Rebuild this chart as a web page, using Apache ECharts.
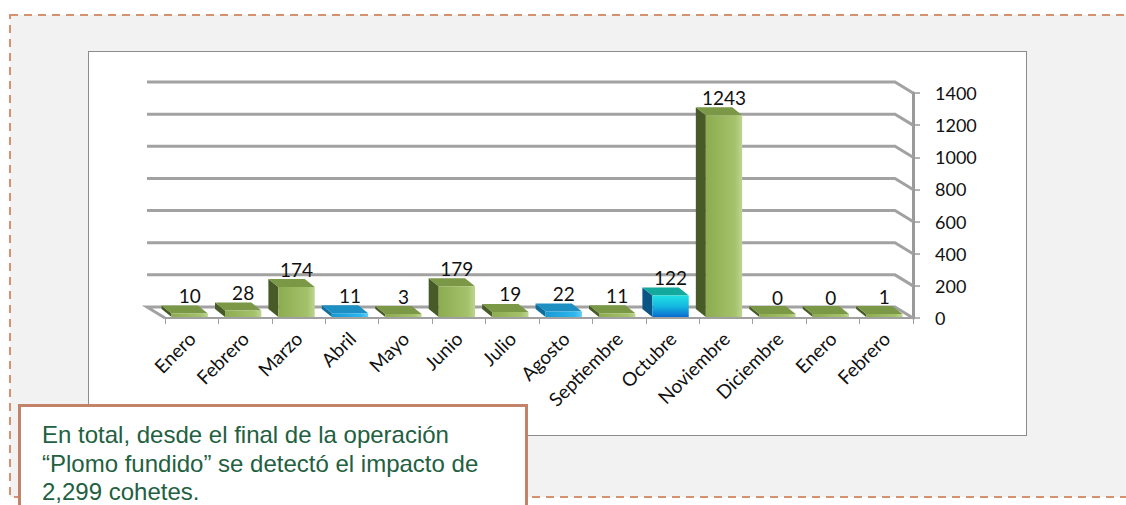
<!DOCTYPE html>
<html>
<head>
<meta charset="utf-8">
<title>Cohetes</title>
<script src="https://cdn.jsdelivr.net/npm/echarts@6/dist/echarts.min.js"></script>
<style>
  body { margin: 0; background: #fff; }
  #stage { position: relative; width: 1126px; height: 505px; overflow: hidden; }
  #frame { position: absolute; left: 0; top: 0; }
  #plotBox { position: absolute; left: 88px; top: 51px; width: 937px; height: 383px;
             background: #fff; border: 1px solid #8c8c8c; }
  #main { position: absolute; left: 0; top: 0; width: 1126px; height: 505px; }
  #note { position: absolute; left: 18px; top: 404px; width: 483px; height: 120px;
          background: #fff; border: 3px solid #c3836b; padding: 14px 0 0 21px;
          font-family: "Liberation Sans", Arial, sans-serif; font-size: 24px;
          line-height: 28.5px; color: #22603f; }
</style>
</head>
<body>
<div id="stage">
  <svg id="frame" width="1126" height="505">
    <rect x="10" y="15" width="1130" height="482" fill="#f2f2f2" stroke="#d8916f"
          stroke-width="2" stroke-dasharray="8 6"/>
  </svg>
  <div id="plotBox"></div>
  <div id="main"></div>
  <div id="note">En total, desde el final de la operación<br>“Plomo fundido” se detectó el impacto de<br>2,299 cohetes.</div>
</div>
<script>
const months = ['Enero', 'Febrero', 'Marzo', 'Abril', 'Mayo', 'Junio', 'Julio',
  'Agosto', 'Septiembre', 'Octubre', 'Noviembre', 'Diciembre', 'Enero', 'Febrero'];
const rockets = [10, 28, 174, 11, 3, 179, 19, 22, 11, 122, 1243, 0, 0, 1];
const yTicks = [0, 200, 400, 600, 800, 1000, 1200, 1400];

// bar colouring, by category index (everything else is green)
const toneByIndex = { 3: 'blue', 7: 'blue', 9: 'cyan' };
const tones = {
  green: { front: ['#8dac50', '#a4c26b', '#bdd690'], vertical: false, side: '#485a27', top: '#7a9846' },
  blue:  { front: ['#1a9ad3', '#2db6ee', '#62cdf4'], vertical: false, side: '#0f6d99', top: '#1d8fc2' },
  cyan:  { front: ['#22e2e4', '#14b8e0', '#0a6bd0'], vertical: true,  side: '#0b5585', top: '#13a99c' }
};

// oblique 3d offsets (back relative to front)
const BAR_DX = -10, BAR_DY = -8;
const WALL_DX = -18, WALL_DY = -11;
const labelFont = '19px Lato, "Open Sans", sans-serif';

let chart = echarts.init(document.getElementById('main'), null, { renderer: 'svg' });

function renderWall(params, api) {
  let cs = params.coordSys;
  let v = api.value(1);
  let y = api.coord([0, v])[1];
  let xl = cs.x, xr = cs.x + cs.width;
  let pts = [[xl + WALL_DX, y + WALL_DY], [xr + WALL_DX, y + WALL_DY], [xr, y]];
  if (v === 0) {
    pts.unshift([xl, y]);
  }
  return {
    type: 'polyline',
    shape: { points: pts },
    style: { stroke: '#a2a2a2', lineWidth: 3, fill: null }
  };
}

function renderBar(params, api) {
  let idx = api.value(0);
  let val = api.value(1);
  let base = api.coord([idx, 0]);
  let top = api.coord([idx, val]);
  let bw = api.size([1, 0])[0] * 0.68;
  let cx = base[0] - 2;
  let x0 = cx - bw / 2, x1 = cx + bw / 2;
  let yb = base[1] - 1;
  let yt = Math.min(top[1] - 3, yb - 3);
  let tone = tones[toneByIndex[idx] || 'green'];
  let grad = tone.vertical
    ? new echarts.graphic.LinearGradient(0, 0, 0, 1, [
        { offset: 0, color: tone.front[0] }, { offset: 0.5, color: tone.front[1] }, { offset: 1, color: tone.front[2] }])
    : new echarts.graphic.LinearGradient(0, 0, 1, 0, [
        { offset: 0, color: tone.front[0] }, { offset: 0.8, color: tone.front[1] }, { offset: 1, color: tone.front[2] }]);
  return {
    type: 'group',
    children: [
      {
        type: 'polygon',
        shape: { points: [[x0, yt], [x0, yb], [x0 + BAR_DX, yb + BAR_DY], [x0 + BAR_DX, yt + BAR_DY]] },
        style: { fill: tone.side }
      },
      {
        type: 'polygon',
        shape: { points: [[x0, yt], [x1, yt], [x1 + BAR_DX, yt + BAR_DY], [x0 + BAR_DX, yt + BAR_DY]] },
        style: { fill: tone.top }
      },
      {
        type: 'rect',
        shape: { x: x0, y: yt, width: bw, height: yb - yt },
        style: { fill: grad }
      },
      {
        type: 'text',
        style: {
          text: String(val), x: cx, y: top[1] - 21,
          textAlign: 'center', textVerticalAlign: 'middle',
          align: 'center', verticalAlign: 'middle',
          font: labelFont, fill: '#111'
        }
      }
    ]
  };
}

let options = {
  animation: false,
  grid: { left: 165, right: 213, top: 93, bottom: 187 },
  xAxis: {
    type: 'category',
    data: months,
    axisLine: { lineStyle: { color: '#a0a0a0', width: 2 } },
    axisTick: { show: true, length: 6, lineStyle: { color: '#a0a0a0', width: 1 } },
    axisLabel: {
      rotate: 45, margin: 17, color: '#111', fontSize: 19,
      fontFamily: 'Lato, "Open Sans", sans-serif'
    }
  },
  yAxis: {
    type: 'value',
    position: 'right',
    min: 0,
    max: 1400,
    interval: 200,
    axisLine: { show: true, lineStyle: { color: '#9a9a9a', width: 3 } },
    axisTick: { show: true, length: 7, lineStyle: { color: '#9a9a9a', width: 1.5 } },
    axisLabel: {
      margin: 22, color: '#111', fontSize: 18, fontFamily: 'Lato, "Open Sans", sans-serif',
      formatter: v => String(v)
    },
    splitLine: { show: false }
  },
  series: [
    {
      type: 'custom',
      z: 1,
      silent: true,
      renderItem: renderWall,
      encode: { x: 0, y: 1 },
      data: yTicks.map(t => [0, t])
    },
    {
      type: 'custom',
      z: 3,
      renderItem: renderBar,
      encode: { x: 0, y: 1 },
      data: rockets.map((v, i) => [i, v])
    }
  ]
};

chart.setOption(options);
</script>
</body>
</html>
